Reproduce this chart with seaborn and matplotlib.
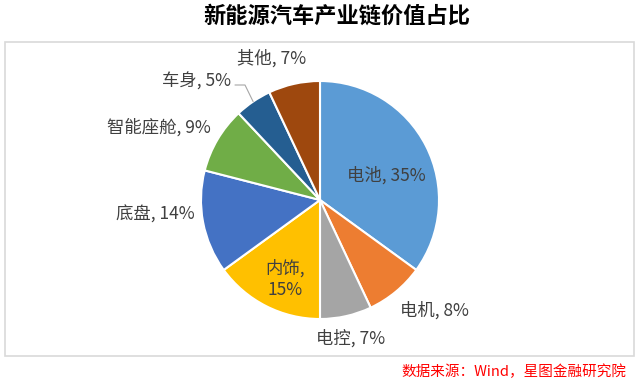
import matplotlib
matplotlib.use("Agg")
import matplotlib.pyplot as plt
import seaborn as sns
import numpy as np
from matplotlib.patches import Rectangle

# ---- data ----
categories = ["电池", "电机", "电控", "内饰", "底盘", "智能座舱", "车身", "其他"]
shares = [35, 8, 7, 15, 14, 9, 5, 7]
colors = ["#5B9BD5", "#ED7D31", "#A5A5A5", "#FFC000", "#4472C4", "#70AD47", "#255E91", "#9E480E"]
title = "新能源汽车产业链价值占比"
source = "数据来源：Wind，星图金融研究院"

# ---- layout (pixel positions of label centers) ----
label_px = [(386, 175), (434, 310), (351, 338), (285, 279),
            (155, 215), (159, 127), (197, 82), (272, 58)]
label_breaks = [False, False, False, True, False, False, False, False]

sns.set_theme(style="white")
plt.rcParams["font.family"] = ["Noto Sans CJK SC", "DejaVu Sans"]

W, H = 641, 383
fig = plt.figure(figsize=(W / 100, H / 100), dpi=100)
cx, cy, R = 320, 200, 119

ax = fig.add_axes([0, 0, 1, 1])
ax.pie(shares, colors=colors, startangle=90, counterclock=False, radius=1,
       wedgeprops=dict(edgecolor="white", linewidth=1.5))
ax.set_xlim(-cx / R, (W - cx) / R)
ax.set_ylim(-(H - cy) / R, cy / R)
ax.set_aspect("auto")
ax.axis("off")

def px2d(px, py):
    return (px - cx) / R, (cy - py) / R

for cat, val, (px, py), brk in zip(categories, shares, label_px, label_breaks):
    sep = ",\n" if brk else ", "
    x, y = px2d(px, py)
    ax.text(x, y, f"{cat}{sep}{val}%", ha="center", va="center",
            fontsize=12.5, color="#404040", linespacing=1.25)

# leader line for 车身
cum = np.cumsum([0] + shares)
i = categories.index("车身")
mid = 90 - 360 * (cum[i] + cum[i + 1]) / 2 / 100
ex, ey = np.cos(np.radians(mid)), np.sin(np.radians(mid))
sx, sy = px2d(235, 85)
kx, ky = px2d(245, 85)
ax.plot([sx, kx, ex], [sy, ky, ey], color="#A6A6A6", linewidth=0.8)

# border
fig.patches.append(Rectangle((5 / W, 1 - 356 / H), (634 - 5) / W, (356 - 42) / H,
                             transform=fig.transFigure, fill=False,
                             edgecolor="#D9D9D9", linewidth=1.2))

fig.text(337 / W, 1 - 16 / H, title, ha="center", va="center", fontsize=16,
         fontweight="heavy", color="black")
fig.text(626 / W, 1 - 372 / H, source, ha="right", va="center", fontsize=10.5,
         color="#FF0000", style="italic")

fig.savefig("out.png", dpi=100)
